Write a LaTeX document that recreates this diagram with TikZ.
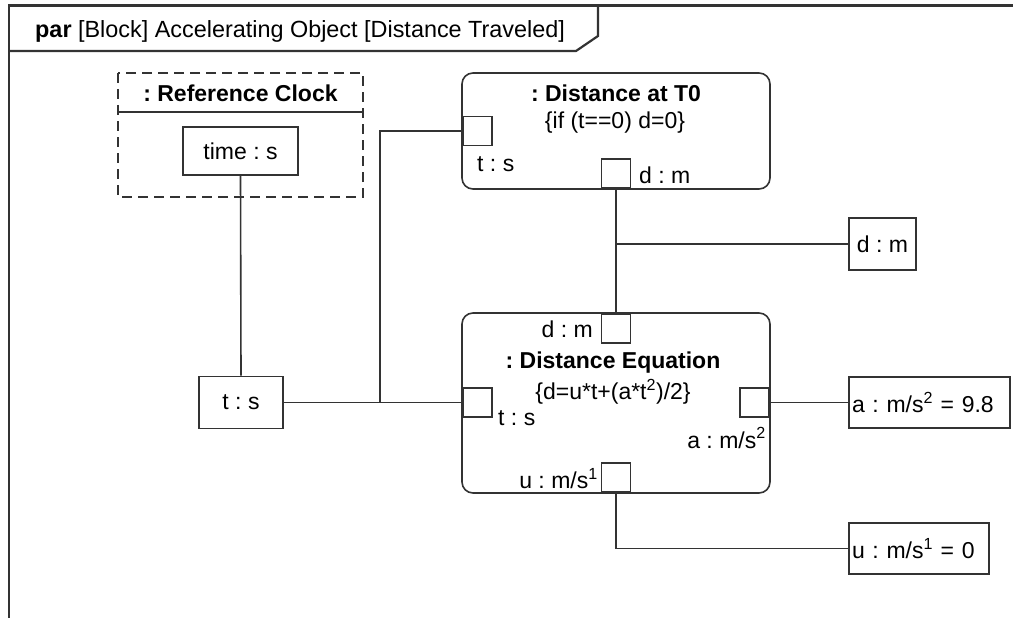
\documentclass[tikz,border=0pt]{standalone}
\usepackage{fontspec}
\setmainfont{Liberation Sans}
\frenchspacing
\begin{document}
\begin{tikzpicture}[x=1pt,y=-1pt,
  every node/.style={font=\fontsize{23}{27}\selectfont},
  frameline/.style={draw=black!80, line width=2.2pt},
  wire/.style={draw=black!80, line width=1.6pt},
  partbox/.style={draw=black!80, line width=1.6pt, rounded corners=11pt},
  port/.style={draw=black!80, line width=1.6pt, fill=white, minimum size=29pt, inner sep=0pt},
  valbox/.style={draw=black!80, line width=1.6pt, inner sep=0pt},
  txt/.style={inner sep=0pt}
]
\useasboundingbox (0,0) rectangle (1013,618);

% diagram frame and its header tab
\draw[frameline] (9,618) -- (9,5.5) -- (1013,5.5);
\draw[frameline] (9,51) -- (576,51) -- (598,36) -- (598,5.5);
\node[txt, anchor=west, font=\fontsize{23.4}{27}\selectfont] (title) at (35,31) {\textbf{par} [Block] Accelerating Object [Distance Traveled]};

% reference clock part
\draw[draw=black!80, line width=1.6pt, dash pattern=on 10pt off 6pt] (118,73) rectangle (363,197);
\draw[wire] (118,112) -- (363,112);
\node[txt] (clocktitle) at (240.5,93) {\textbf{: Reference Clock}};
\node[valbox, minimum width=115pt, minimum height=48pt] (time) at (240.5,151) {time : s};

% distance at T0 part
\draw[partbox] (462,73) rectangle (770,189);
\node[txt] (t0title) at (616,93) {\textbf{: Distance at T0}};
\node[txt] (t0rule) at (615,123) {\{if (t==0) d=0\}};
\node[port, anchor=west] (t0t) at (462,131) {};
\node[port, anchor=south] (t0d) at (616,189) {};
\node[txt, anchor=west] (t0tl) at (477,164) {t : s};
\node[txt, anchor=west] (t0dl) at (639,175) {d : m};

% distance equation part
\draw[partbox] (462,313) rectangle (770,493);
\node[txt] (eqtitle) at (613,363) {\textbf{: Distance Equation}};
\node[txt] (eqrule) at (613,392) {\{d=u*t+(a*t\textsuperscript{2})/2\}};
\node[port, anchor=north] (eqd) at (616,313) {};
\node[port, anchor=west] (eqt) at (462,402.5) {};
\node[port, anchor=east] (eqa) at (770,402.5) {};
\node[port, anchor=south] (equ) at (616,493) {};
\node[txt, anchor=east] (eqdl) at (593,329) {d : m};
\node[txt, anchor=west] (eqtl) at (498,418) {t : s};
\node[txt, anchor=east] (eqal) at (766,438) {a : m/s\textsuperscript{2}};
\node[txt, anchor=east] (equl) at (598,479) {u : m/s\textsuperscript{1}};

% value properties
\node[valbox, minimum width=84pt, minimum height=52pt] (ts) at (241,402.5) {t : s};
\node[valbox, minimum width=67pt, minimum height=52pt] (dm) at (882.5,244) {d : m};
\node[valbox, minimum width=161pt, minimum height=51pt, text width=155pt, align=left] (av) at (929.5,402.5) {a : m/s\textsuperscript{2} = 9.8};
\node[valbox, minimum width=140pt, minimum height=51pt, text width=134pt, align=left] (uv) at (919,548.5) {u : m/s\textsuperscript{1} = 0};

% binding connectors
\coordinate (tjoin) at (380,402.5);
\coordinate (djoin) at (616,244);
\draw[wire] (time.south) -- (ts.north);
\draw[wire] (ts.east) -- (eqt.west);
\draw[wire] (tjoin) |- (t0t.west);
\draw[wire] (t0d.south) -- (eqd.north);
\draw[wire] (djoin) -- (dm.west);
\draw[wire] (eqa.east) -- (av.west);
\draw[wire] (equ.south) |- (uv.west);
\end{tikzpicture}
\end{document}
